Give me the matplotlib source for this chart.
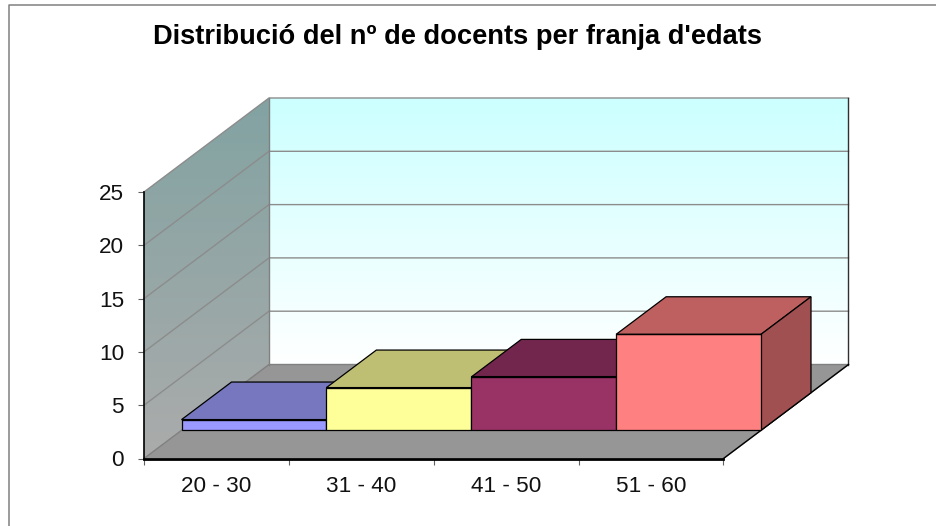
import numpy as np
import matplotlib
matplotlib.use('Agg')
import matplotlib.pyplot as plt
from matplotlib.patches import Polygon

plt.rcParams['font.family'] = ['Liberation Sans', 'DejaVu Sans']

title = "Distribució del nº de docents per franja d'edats"
categories = ['20 - 30', '31 - 40', '41 - 50', '51 - 60']
docents = [1, 4, 5, 9]
y_ticks = [0, 5, 10, 15, 20, 25]

front_colors = ['#9999ff', '#ffff99', '#993366', '#ff8080']
top_colors = ['#7777bf', '#bfbf73', '#73264d', '#bf6060']
side_colors = ['#5f5fa0', '#a0a060', '#602040', '#a05050']

W, H = 937, 526
left, right, bottom, top = 144.0, 723.5, 458.5, 192.0
depth_x, depth_y = 125.0, 94.0   # pixels between front and back of the floor
bar_d0, bar_d1 = 0.3, 0.7        # part of the depth taken by the bars

fig = plt.figure(figsize=(W / 100, H / 100), dpi=100, facecolor='white')
ax = fig.add_axes([left / W, 1 - bottom / H, (right - left) / W, (bottom - top) / H])
ax.patch.set_visible(False)

n = len(categories)
ymax = y_ticks[-1]
dx_unit = depth_x / ((right - left) / n)
dy_unit = depth_y / ((bottom - top) / ymax)


def proj(x, v, d):
    # oblique projection of (category, value, depth) on the axes
    return (x + d * dx_unit, v + d * dy_unit)


def face(pts, color, lw=0.9, ec='black', z=3):
    p = Polygon([proj(*q) for q in pts], closed=True, fc=color, ec=ec, lw=lw,
                zorder=z, clip_on=False, joinstyle='miter')
    ax.add_patch(p)
    return p


def gradient(c0, c1, pts, z=1):
    # vertical gradient c0 at top to c1 at bottom, clipped to a wall
    c0 = np.array(matplotlib.colors.to_rgb(c0))
    c1 = np.array(matplotlib.colors.to_rgb(c1))
    t = np.linspace(0, 1, 256)[:, None, None]
    img = c0[None, None, :] * (1 - t) + c1[None, None, :] * t
    xy = [proj(*q) for q in pts]
    xs = [p[0] for p in xy]
    ys = [p[1] for p in xy]
    im = ax.imshow(img, extent=[min(xs), max(xs), min(ys), max(ys)], aspect='auto',
                   origin='upper', zorder=z)
    clip = Polygon(xy, closed=True, transform=ax.transData, fc='none', ec='none')
    im.set_clip_path(clip)
    im.set_clip_box(fig.bbox)


# walls and floor
gradient('#ccffff', '#ffffff', [(0, 0, 1), (n, 0, 1), (n, ymax, 1), (0, ymax, 1)])
gradient('#82a3a2', '#ababab', [(0, 0, 0), (0, 0, 1), (0, ymax, 1), (0, ymax, 0)])
face([(0, 0, 0), (n, 0, 0), (n, 0, 1), (0, 0, 1)], '#969696', lw=0, ec='none', z=1.5)

# gridlines on both walls
for v in y_ticks[1:]:
    xs, ys = zip(proj(0, v, 0), proj(0, v, 1), proj(n, v, 1))
    ax.plot(xs, ys, color='#8c8c8c', lw=1.0, zorder=2, clip_on=False)
xs, ys = zip(proj(0, 0, 0), proj(0, 0, 1), proj(n, 0, 1), proj(n, 0, 0))
ax.plot(xs, ys, color='#808080', lw=1.0, zorder=2, clip_on=False)
xs, ys = zip(proj(0, 0, 1), proj(0, ymax, 1))
ax.plot(xs, ys, color='#808080', lw=1.0, zorder=2, clip_on=False)
xs, ys = zip(proj(n, 0, 1), proj(n, ymax, 1))
ax.plot(xs, ys, color='#303030', lw=1.0, zorder=2, clip_on=False)
xs, ys = zip(proj(n, 0, 0), proj(n, 0, 1))
ax.plot(xs, ys, color='black', lw=1.0, zorder=2, clip_on=False)

# bars, left to right so that each one hides the side of the one before
for i, v in enumerate(docents):
    z = 3 + i * 0.1
    face([(i, v, bar_d0), (i + 1, v, bar_d0), (i + 1, v, bar_d1), (i, v, bar_d1)], top_colors[i], z=z)
    face([(i + 1, 0, bar_d0), (i + 1, 0, bar_d1), (i + 1, v, bar_d1), (i + 1, v, bar_d0)], side_colors[i], z=z)
    face([(i, 0, bar_d0), (i + 1, 0, bar_d0), (i + 1, v, bar_d0), (i, v, bar_d0)], front_colors[i], z=z)
    xs, ys = zip(proj(i, v, bar_d0), proj(i + 1, v, bar_d0))
    ax.plot(xs, ys, color='black', lw=1.5 if i < 3 else 0.9, zorder=z, clip_on=False,
            solid_capstyle='butt')

ax.set_xlim(0, n)
ax.set_ylim(0, ymax)

for s in ['top', 'right']:
    ax.spines[s].set_visible(False)
ax.spines['left'].set_linewidth(1.2)
ax.spines['bottom'].set_linewidth(2.0)
ax.spines['left'].set_bounds(0, ymax)
ax.spines['left'].set_zorder(5)
ax.spines['bottom'].set_zorder(5)

ax.set_yticks(y_ticks)
ax.set_xticks(range(n + 1))
ax.set_xticklabels([])
ax.set_xticks(np.arange(n) + 0.5, minor=True)
ax.set_xticklabels(categories, minor=True)
ax.tick_params(axis='x', which='major', length=4, width=0.8, color='#606060')
ax.tick_params(axis='x', which='minor', length=0, labelsize=16.2, pad=12.5, labelcolor='#111111')
ax.tick_params(axis='y', length=4.3, width=0.8, color='#606060', labelsize=16.2, pad=10, labelcolor='#111111')

fig.text(458 / W, 1 - 37.5 / H, title, ha='center', va='center', fontsize=19.6,
         fontweight='bold', color='black')

# chart area frame, only top and left are in the picture
fig.add_artist(plt.Line2D([9.5 / W, 9.5 / W, 1], [0, 1 - 4.5 / H, 1 - 4.5 / H],
                          color='#808080', lw=1.1, transform=fig.transFigure))

fig.savefig('out.png', dpi=100)
